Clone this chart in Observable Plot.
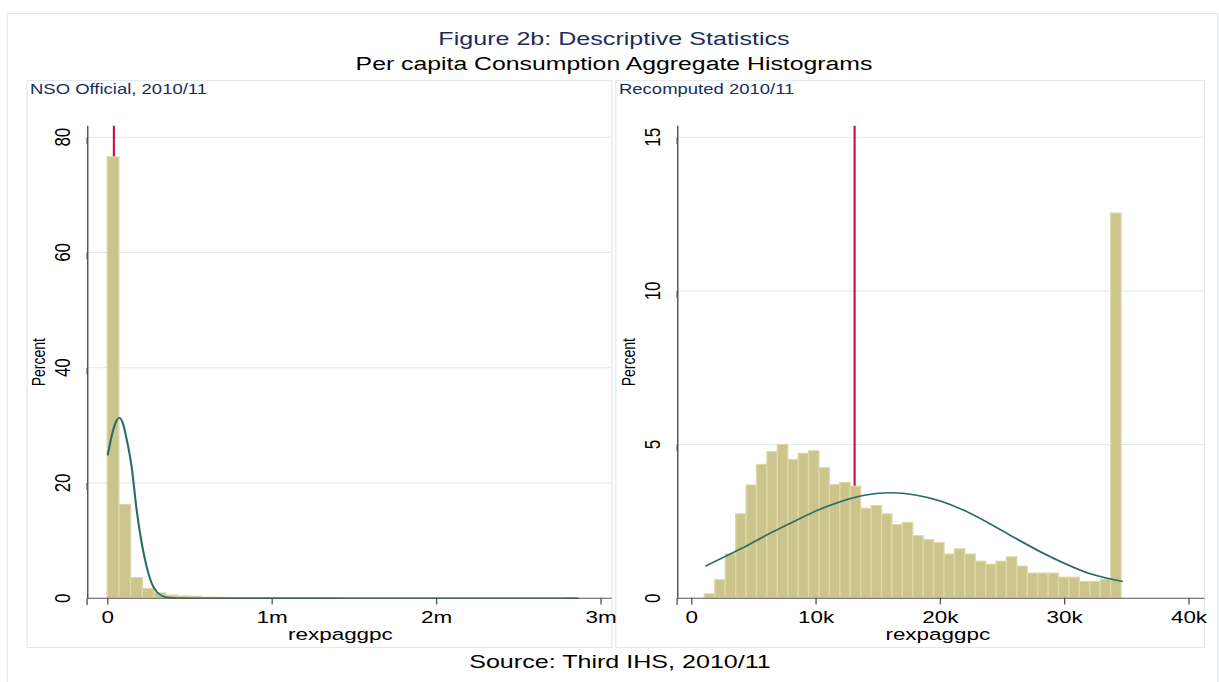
<!DOCTYPE html>
<html><head><meta charset="utf-8">
<script src="https://cdn.jsdelivr.net/npm/d3@7"></script>
<script src="https://cdn.jsdelivr.net/npm/@observablehq/plot@0.6"></script>
<style>
html,body{margin:0;padding:0;background:#fff;overflow:hidden;width:1219px;height:682px;}
#stage{position:absolute;left:0;top:0;height:682px;transform-origin:0 0;font-family:'Liberation Sans',Arial,Helvetica,sans-serif;}
.t{position:absolute;white-space:nowrap;line-height:1;}
.box{position:absolute;border:1px solid #e3eaee;box-sizing:border-box;}
.pp{position:absolute;}
</style></head><body><div id="stage"></div>
<script>
// ---------------- data ----------------
const figTitle = "Figure 2b: Descriptive Statistics";
const figSubtitle = "Per capita Consumption Aggregate Histograms";
const figCaption = "Source: Third IHS, 2010/11";
const panelTitles = ["NSO Official, 2010/11", "Recomputed 2010/11"];
const xTitle = "rexpaggpc";
const yTitle = "Percent";

// NSO Official histogram (percent per bin)
const nsoBinStart = 0;
const nsoBinWidth = 71400;
const nsoPercent = [76.5, 16.2, 3.5, 1.6, 0.85, 0.45, 0.3, 0.28, 0.12, 0.08,
  0.06, 0.05, 0.04, 0.03, 0.03, 0.02, 0.02, 0.02, 0.01, 0.01,
  0, 0, 0, 0, 0, 0, 0, 0, 0, 0,
  0, 0, 0, 0, 0, 0, 0, 0, 0, 0.01];
const nsoMarker = 37000;
const nsoCurveX = [0, 17000, 33000, 50000, 69000, 90000, 114000, 145000, 175000, 206000,
  237000, 267000, 298000, 330000, 370000, 420000, 500000, 1000000, 2000000, 2860000];
const nsoCurveY = [24.9, 27.3, 29.2, 30.6, 31.3, 30.5, 27.7, 22.8, 15.4, 9.6,
  5.4, 2.6, 1.1, 0.4, 0.1, 0.02, 0, 0, 0, 0];
const nsoXTicks = [0, 1000000, 2000000, 3000000];
const nsoXLabels = ["0", "1m", "2m", "3m"];
const nsoYTicks = [0, 20, 40, 60, 80];

// Recomputed histogram
const recBinStart = 1070;
const recBinWidth = 838;
const recPercent = [0.13, 0.59, 1.43, 2.73, 3.67, 4.34, 4.75, 4.99, 4.50, 4.70,
  4.78, 4.23, 3.68, 3.75, 3.63, 2.91, 3.00, 2.73, 2.38, 2.45,
  2.02, 1.89, 1.79, 1.42, 1.59, 1.42, 1.19, 1.09, 1.19, 1.33,
  1.03, 0.80, 0.80, 0.80, 0.67, 0.67, 0.53, 0.53, 0.60, 12.52];
const recMarker = 13100;
const recCurveX = [1150, 2000, 4000, 6000, 8000, 10000, 12000, 14000, 16000, 18000,
  20000, 22000, 24000, 26000, 28000, 30000, 32000, 34600];
const recCurveY = [1.05, 1.22, 1.62, 2.05, 2.45, 2.84, 3.15, 3.36, 3.43, 3.36,
  3.16, 2.84, 2.42, 1.96, 1.52, 1.13, 0.80, 0.55];
const recXTicks = [0, 10000, 20000, 30000, 40000];
const recXLabels = ["0", "10k", "20k", "30k", "40k"];
const recYTicks = [0, 5, 10, 15];

// ---------------- layout ----------------
const S = 1.32;            // horizontal stretch of the reference
const d = X => X / S;      // real x -> design x
const FONT = "'Liberation Sans', Arial, Helvetica, sans-serif";
const NAVY = "#1c2c5e";
const stage = document.getElementById("stage");
stage.style.width = d(1219) + "px";
stage.style.transform = `scaleX(${S})`;

function box(x, y, w, h) {
  const b = document.createElement("div");
  b.className = "box";
  Object.assign(b.style, {left: d(x) + "px", top: y + "px", width: d(w) + "px", height: h + "px"});
  stage.appendChild(b);
}
function text(str, x, y, size, color, center) {
  const t = document.createElement("div");
  t.className = "t";
  t.textContent = str;
  Object.assign(t.style, {left: d(x) + "px", top: y + "px", fontSize: size + "px", color,
    transform: center ? "translate(-50%,-50%)" : "translateY(-50%)"});
  stage.appendChild(t);
}

box(7, 13, 1212, 700);
box(27, 80, 586, 568);
box(615, 80, 590, 568);

text(figTitle, 614, 38, 19, NAVY, true);
text(figSubtitle, 614, 64, 18.8, "#000", true);
text(panelTitles[0], 30, 89, 14, NAVY, false);
text(panelTitles[1], 619, 89, 14, NAVY, false);
text(figCaption, 620, 661, 19, "#000", true);

function panel(o) {
  const top = 110, H = 538;
  const yTop = 125.7, yBase = 597.7;
  const bars = o.percent.map((p, i) => ({x1: o.binStart + i * o.binWidth, x2: o.binStart + (i + 1) * o.binWidth, y: p}))
    .filter(b => b.y > 0);
  const curve = o.curveX.map((x, i) => ({x, y: o.curveY[i]}));
  const chart = Plot.plot({
    width: d(o.right - o.left), height: H,
    marginLeft: d(o.axisX - o.left), marginRight: d(o.right - o.plotRight),
    marginTop: yTop - top, marginBottom: top + H - yBase,
    x: {domain: o.xDomain},
    y: {domain: o.yDomain},
    style: {fontFamily: FONT, fontSize: "17px", background: "none", overflow: "visible", color: "#000"},
    marks: [
      Plot.gridY({ticks: o.yTicks.filter(v => v > 0), stroke: "#dfe8ec", strokeOpacity: 1}),
      Plot.ruleX([o.marker], {y1: 0, y2: o.yDomain[1], stroke: "#c8103c", strokeWidth: 1.6}),
      Plot.rectY(bars, {x1: "x1", x2: "x2", y: "y", fill: "#cbc58b", stroke: "#dcd8a8", strokeWidth: 1}),
      Plot.line(curve, {x: "x", y: "y", stroke: "#2a6c69", strokeWidth: 1.6, curve: "monotone-x"}),
      Plot.frame({anchor: "left", stroke: "#444"}),
      Plot.frame({anchor: "bottom", stroke: "#555"}),
      Plot.axisX({ticks: o.xTicks, tickFormat: v => o.xLabels[o.xTicks.indexOf(v)], tickSize: 6.7, tickPadding: 6,
        fontSize: 17, stroke: "#555", label: null}),
      Plot.axisY({ticks: o.yTicks, tickSize: d(9), tickPadding: 6.5, rotate: -90, textAnchor: "middle", lineAnchor: "bottom",
        fontSize: 17, stroke: "#555", label: null}),
      Plot.text([yTitle], {frameAnchor: "left", dx: d(-48.7), rotate: -90, fontSize: 14,
        textAnchor: "middle", lineAnchor: "middle"}),
      Plot.text([xTitle], {frameAnchor: "bottom", dx: d(o.xTitleShift), dy: 36.5, fontSize: 17,
        textAnchor: "middle", lineAnchor: "middle"})
    ]
  });
  const holder = document.createElement("div");
  holder.className = "pp";
  holder.style.left = d(o.left) + "px";
  holder.style.top = top + "px";
  holder.appendChild(chart);
  stage.appendChild(holder);
}

panel({left: 27, right: 612, axisX: 87.7, plotRight: 611,
  xDomain: [-121900, 3061000], yDomain: [0, 81.9],
  xTicks: nsoXTicks, xLabels: nsoXLabels, yTicks: nsoYTicks,
  binStart: nsoBinStart, binWidth: nsoBinWidth, percent: nsoPercent, marker: nsoMarker,
  curveX: nsoCurveX, curveY: nsoCurveY, xTitleShift: -9});

panel({left: 615, right: 1205, axisX: 677, plotRight: 1203,
  xDomain: [-1126, 41190], yDomain: [0, 15.36],
  xTicks: recXTicks, xLabels: recXLabels, yTicks: recYTicks,
  binStart: recBinStart, binWidth: recBinWidth, percent: recPercent, marker: recMarker,
  curveX: recCurveX, curveY: recCurveY, xTitleShift: -3});
</script></body></html>
